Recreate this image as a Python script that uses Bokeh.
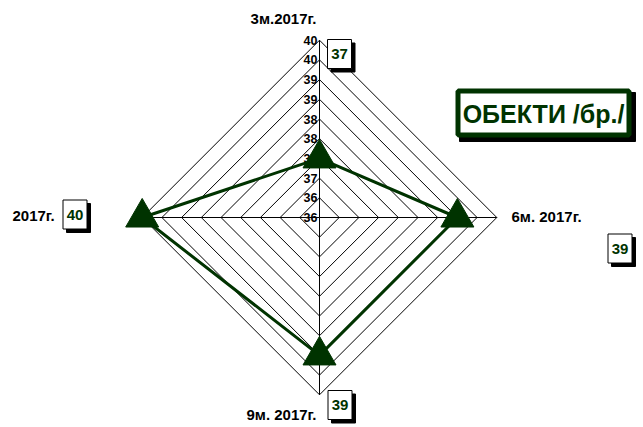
import math
from bokeh.plotting import figure
from bokeh.core.properties import value
from bokeh.embed import file_html
from bokeh.resources import INLINE

# ---- data ----
categories = ["3м.2017г.", "6м. 2017г.", "9м. 2017г.", "2017г."]
values = [37, 39, 39, 40]
tick_values = [35.5, 36, 36.5, 37, 37.5, 38, 38.5, 39, 39.5, 40]
tick_labels = ["36", "36", "37", "37", "38", "38", "39", "39", "40", "40"]
title_text = "ОБЕКТИ /бр./"
rmin, rmax = 35.5, 40.0

GREEN = "#003300"
FONT = value("Liberation Sans")

W, H = 640, 424
OX, OY = 0, 0       # page offset of figure
s = 39.4            # px per value unit
cx, cy = 319, 217   # page coords of centre

def X(px):
    return (px - cx) / s

def Y(py):
    return (cy - py) / s

p = figure(width=W, height=H, output_backend="svg", toolbar_location=None,
           x_range=(X(OX), X(OX + W)), y_range=(Y(OY + H), Y(OY)),
           min_border=0, outline_line_color=None)
p.axis.visible = False
p.grid.visible = False

n = len(categories)
angles = [math.pi / 2 - 2 * math.pi * i / n for i in range(n)]

# rings
for t in tick_values[1:]:
    r = t - rmin
    xs = [r * math.cos(a) for a in angles] + [r * math.cos(angles[0])]
    ys = [r * math.sin(a) for a in angles] + [r * math.sin(angles[0])]
    p.line(xs, ys, line_color="black", line_width=1)

# spokes
R = rmax - rmin
for a in angles:
    p.line([0, R * math.cos(a)], [0, R * math.sin(a)], line_color="black", line_width=1)

# tick labels
p.text(x=[X(317)] * len(tick_values), y=[t - rmin for t in tick_values], text=tick_labels,
       text_align="right", text_baseline="middle", text_font=FONT,
       text_font_style="bold", text_font_size="12.5px", text_color="black")

# series
vx = [(v - rmin) * math.cos(a) for v, a in zip(values, angles)]
vy = [(v - rmin) * math.sin(a) for v, a in zip(values, angles)]
p.line(vx + [vx[0]], vy + [vy[0]], line_color=GREEN, line_width=3)
p.scatter(vx, vy, marker="triangle", size=33, fill_color=GREEN, line_color=GREEN)

# category labels
cat_pos = [(283, 18, "center"), (511, 216, "left"), (281, 414, "center"), (12, 215, "left")]
for (px, py, al), c in zip(cat_pos, categories):
    p.text(x=[X(px)], y=[Y(py)], text=[c], text_align=al, text_baseline="middle",
           text_font=FONT, text_font_style="bold", text_font_size="15px", text_color="black")

# data label boxes
box_pos = [(339, 53.5), (619.5, 248), (339.5, 404.5), (74.5, 214)]
for (px, py), v in zip(box_pos, values):
    p.rect(x=[X(px + 3.5)], y=[Y(py + 3.5)], width=24, height=29, width_units="screen",
           height_units="screen", fill_color="black", line_color="black")
    p.rect(x=[X(px)], y=[Y(py)], width=24, height=29, width_units="screen",
           height_units="screen", fill_color="white", line_color="black", line_width=1)
    p.text(x=[X(px)], y=[Y(py)], text=[str(v)], text_align="center", text_baseline="middle",
           text_font=FONT, text_font_style="bold", text_font_size="15px", text_color=GREEN)

# title box
tx, ty = 543, 112.5
p.rect(x=[X(tx + 4)], y=[Y(ty + 4)], width=176, height=49, width_units="screen",
       height_units="screen", fill_color="black", line_color="black")
p.rect(x=[X(tx)], y=[Y(ty)], width=171, height=44, width_units="screen",
       height_units="screen", fill_color="white", line_color=GREEN, line_width=5)
p.text(x=[X(tx)], y=[Y(ty + 1)], text=[title_text], text_align="center", text_baseline="middle",
       text_font=FONT, text_font_style="bold", text_font_size="25px", text_color=GREEN)

open("out.html", "w").write(file_html(p, INLINE))
